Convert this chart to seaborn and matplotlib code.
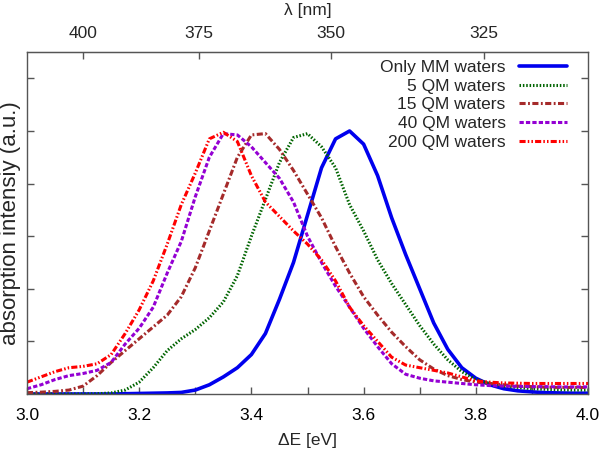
import matplotlib
matplotlib.use("Agg")
import matplotlib.pyplot as plt
import seaborn as sns
import pandas as pd

# energy grid [eV]
energy = [3.000, 3.025, 3.050, 3.075, 3.100, 3.125, 3.150, 3.175, 3.200, 3.225,
          3.250, 3.275, 3.300, 3.325, 3.350, 3.375, 3.400, 3.425, 3.450, 3.475,
          3.500, 3.525, 3.550, 3.575, 3.600, 3.625, 3.650, 3.675, 3.700, 3.725,
          3.750, 3.775, 3.800, 3.825, 3.850, 3.875, 3.900, 3.925, 3.950, 3.975,
          4.000]

only_mm = [0.0, 0.0, 0.0, 0.0, 0.0, 0.0, 0.0, 0.001, 0.002, 0.003,
           0.004, 0.006, 0.015, 0.035, 0.065, 0.10, 0.15, 0.23, 0.36, 0.50,
           0.68, 0.86, 0.97, 1.0, 0.95, 0.83, 0.67, 0.53, 0.40, 0.27,
           0.17, 0.10, 0.06, 0.035, 0.02, 0.012, 0.008, 0.005, 0.004, 0.003,
           0.003]
qm5 = [0.0, 0.0, 0.0, 0.0, 0.0, 0.001, 0.004, 0.015, 0.045, 0.10,
       0.165, 0.21, 0.245, 0.29, 0.35, 0.45, 0.60, 0.74, 0.88, 0.975,
       0.99, 0.94, 0.86, 0.72, 0.62, 0.51, 0.42, 0.34, 0.26, 0.19,
       0.13, 0.085, 0.055, 0.04, 0.03, 0.025, 0.02, 0.018, 0.016, 0.015,
       0.015]
qm15 = [0.005, 0.007, 0.01, 0.015, 0.03, 0.07, 0.12, 0.165, 0.21, 0.255,
        0.30, 0.37, 0.48, 0.62, 0.76, 0.90, 0.985, 0.99, 0.93, 0.85,
        0.76, 0.67, 0.56, 0.46, 0.37, 0.30, 0.235, 0.18, 0.13, 0.095,
        0.07, 0.055, 0.045, 0.04, 0.035, 0.03, 0.028, 0.026, 0.025, 0.025,
        0.025]
qm40 = [0.02, 0.035, 0.055, 0.07, 0.078, 0.09, 0.12, 0.19, 0.25, 0.33,
        0.46, 0.58, 0.75, 0.90, 0.99, 0.985, 0.94, 0.88, 0.82, 0.73,
        0.60, 0.50, 0.41, 0.33, 0.25, 0.18, 0.115, 0.075, 0.06, 0.05,
        0.045, 0.04, 0.035, 0.032, 0.03, 0.029, 0.028, 0.028, 0.027, 0.027,
        0.027]
qm200 = [0.045, 0.065, 0.085, 0.10, 0.105, 0.115, 0.15, 0.23, 0.32, 0.43,
         0.57, 0.72, 0.84, 0.97, 0.995, 0.96, 0.83, 0.73, 0.675, 0.62,
         0.57, 0.51, 0.43, 0.33, 0.26, 0.20, 0.14, 0.11, 0.10, 0.09,
         0.08, 0.065, 0.05, 0.045, 0.042, 0.041, 0.04, 0.04, 0.04, 0.04,
         0.04]

labels = ["Only MM waters", "5 QM waters", "15 QM waters", "40 QM waters", "200 QM waters"]
series = [only_mm, qm5, qm15, qm40, qm200]
colors = ["#0000ee", "#006400", "#a52a2a", "#9400d3", "#ff0000"]
styles = ["-", (0, (0.5, 0.6)), (0, (2.0, 0.8, 0.6, 0.8)), (0, (1.4, 0.7)),
          (0, (2.0, 0.7, 0.5, 0.7, 0.5, 0.7))]
widths = [2.6, 2.2, 2.2, 2.2, 2.2]

sns.set_style("ticks")
plt.rcParams['font.family'] = ['Liberation Sans', 'DejaVu Sans']

fig = plt.figure(figsize=(6, 4.49), dpi=100)
ax = fig.add_axes([0.045, 0.1225, 0.935, 0.7615])

for i in range(len(series)):
    df = pd.DataFrame({"E": energy, "I": series[i]})
    sns.lineplot(data=df, x="E", y="I", ax=ax, color=colors[i], lw=widths[i],
                 linestyle=styles[i], label=labels[i])

ax.set_xlim(3.0, 4.0)
ax.set_ylim(0, 1.3)
ax.set_xticks([3.0, 3.2, 3.4, 3.6, 3.8, 4.0])
ax.set_xticks([3.1, 3.3, 3.5, 3.7, 3.9], minor=True)
ax.set_yticks([0.2, 0.4, 0.6, 0.8, 1.0, 1.2])
ax.set_yticklabels([])
ax.tick_params(axis="both", which="both", direction="in", length=5, width=1,
               color="#555555", labelsize=12.5, labelcolor="black")
ax.tick_params(axis="y", right=True)
ax.tick_params(axis="x", which="both", top=False, pad=10)
for s in ax.spines.values():
    s.set_visible(True)
    s.set_color("#555555")
    s.set_linewidth(1)

ax.set_xlabel("ΔE [eV]", fontsize=12.5, labelpad=7)
ax.set_ylabel("absorption intensiy (a.u.)", fontsize=16, labelpad=1)

top = ax.secondary_xaxis("top", functions=(lambda e: 1239.84 / e, lambda l: 1239.84 / l))
top.set_xticks([400, 375, 350, 325])
top.tick_params(direction="in", length=5, width=1, color="#555555", labelsize=12.5, pad=8)
top.spines["top"].set_color("#555555")
top.set_xlabel("λ [nm]", fontsize=12.5, labelpad=8)

leg = ax.legend(loc="upper right", bbox_to_anchor=(0.963, 0.977), frameon=False,
                markerfirst=False, fontsize=12.5, handlelength=2.8, handletextpad=0.75,
                labelspacing=0.2, borderpad=0, borderaxespad=0)

fig.savefig("out.png", dpi=100)
